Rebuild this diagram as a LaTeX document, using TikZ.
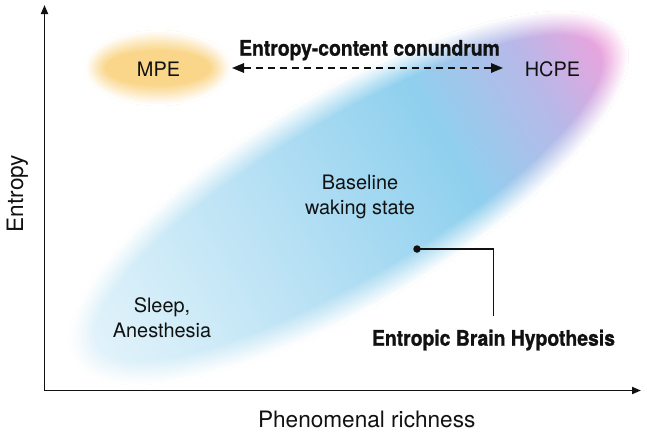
\documentclass[tikz,border=0pt]{standalone}
\usepackage{fontspec}
\setmainfont{TeX Gyre Heros}
\newfontfamily\condbold[FakeStretch=0.9,FakeBold=1]{TeX Gyre Heros}
\usetikzlibrary{arrows.meta,fadings}

\definecolor{cA}{HTML}{E6F4FB}
\definecolor{cB}{HTML}{D3EDF8}
\definecolor{cC}{HTML}{B6E0F4}
\definecolor{cD}{HTML}{8FD0EE}
\definecolor{cE}{HTML}{B8B8E8}
\definecolor{cF}{HTML}{EEA2DD}
\definecolor{cG}{HTML}{F29FDC}
\definecolor{mpecol}{HTML}{FAD68A}
\definecolor{ink}{HTML}{111111}

\pgfdeclarehorizontalshading{bigellshade}{100bp}{color(0bp)=(cA); color(25bp)=(cA); color(33bp)=(cB); color(44.6bp)=(cC); color(58.7bp)=(cD); color(67.3bp)=(cE); color(73.5bp)=(cF); color(75bp)=(cG); color(100bp)=(cG)}

\begin{tikzfadingfrompicture}[name=bigfade]
\foreach \k in {0,...,14}{
  \pgfmathsetmacro\rx{319-2*\k}
  \pgfmathsetmacro\ry{107-2*\k}
  \pgfmathtruncatemacro\tr{100-100*\k/14}
  \fill[fill=transparent!\tr] (0,0) ellipse [x radius=\rx pt, y radius=\ry pt];
}
\end{tikzfadingfrompicture}

\begin{tikzfadingfrompicture}[name=mpefade]
\foreach \k in {0,...,10}{
  \pgfmathsetmacro\rx{73-2*\k}
  \pgfmathsetmacro\ry{38-2*\k}
  \pgfmathtruncatemacro\tr{100-100*\k/10}
  \fill[fill=transparent!\tr] (0,0) ellipse [x radius=\rx pt, y radius=\ry pt];
}
\end{tikzfadingfrompicture}

\begin{document}
\begin{tikzpicture}[x=1pt,y=-1pt,
  lbl/.style={inner sep=0pt, text=ink, font=\fontsize{19.9}{25}\selectfont},
  boldlbl/.style={inner sep=0pt, text=ink, font=\condbold\bfseries\fontsize{21.5}{26}\selectfont},
  axlbl/.style={inner sep=0pt, text=ink, font=\fontsize{22.6}{27}\selectfont},
  axisline/.style={draw=ink, line width=1.8pt, {Triangle[length=9pt,width=7pt]}-{Triangle[length=9pt,width=7pt]}},
  dasharrow/.style={draw=ink, line width=1.6pt, dash pattern=on 7pt off 5pt, {Triangle[length=12pt,width=9.5pt]}-{Triangle[length=12pt,width=9.5pt]}},
  leader/.style={draw=ink, line width=1.6pt},
  dotstyle/.style={circle, fill=ink, inner sep=0pt, minimum size=7.5pt}]
\useasboundingbox (0,0) rectangle (647,434);
\fill[white] (0,0) rectangle (647,434);

\begin{scope}[transform canvas={shift={(349,198)}, rotate=30.7}]
  \shade[shading=bigellshade, path fading=bigfade, fit fading=false] (0,0) ellipse [x radius=319pt, y radius=107pt];
\end{scope}
\begin{scope}[transform canvas={shift={(158,68)}}]
  \fill[mpecol, path fading=mpefade, fit fading=false] (0,0) ellipse [x radius=73pt, y radius=38pt];
\end{scope}

\coordinate (O) at (44.5,390.5);
\coordinate (ytip) at (44.5,5);
\coordinate (xtip) at (641,390.5);
\draw[axisline] (ytip) -- (O) -- (xtip);

\node[lbl, anchor=base] (mpe) at (158.5,76) {MPE};
\node[lbl, anchor=base] (hcpe) at (552.5,76) {HCPE};
\node[boldlbl, anchor=base] (ecc) at (369.5,55.7) {Entropy-content conundrum};
\coordinate (la) at (232,68);
\coordinate (ra) at (503,68);
\draw[dasharrow] (la) -- (ra);

\node[lbl, align=center] (bws) at (360,197) {Baseline\\waking state};
\node[lbl, align=center] (sa) at (162,318) {Sleep,\\Anesthesia};
\node[boldlbl, anchor=base] (ebh) at (493.5,345.7) {Entropic Brain Hypothesis};

\node[dotstyle] (dot) at (417,249) {};
\coordinate (elbow) at (493.5,249);
\draw[leader] (dot.center) -- (elbow) -- ([yshift=13pt]ebh.north);

\node[axlbl, anchor=base] (xl) at (366.7,427.3) {Phenomenal richness};
\node[axlbl, anchor=base, rotate=90] (yl) at (23,193.5) {Entropy};
\end{tikzpicture}
\end{document}
